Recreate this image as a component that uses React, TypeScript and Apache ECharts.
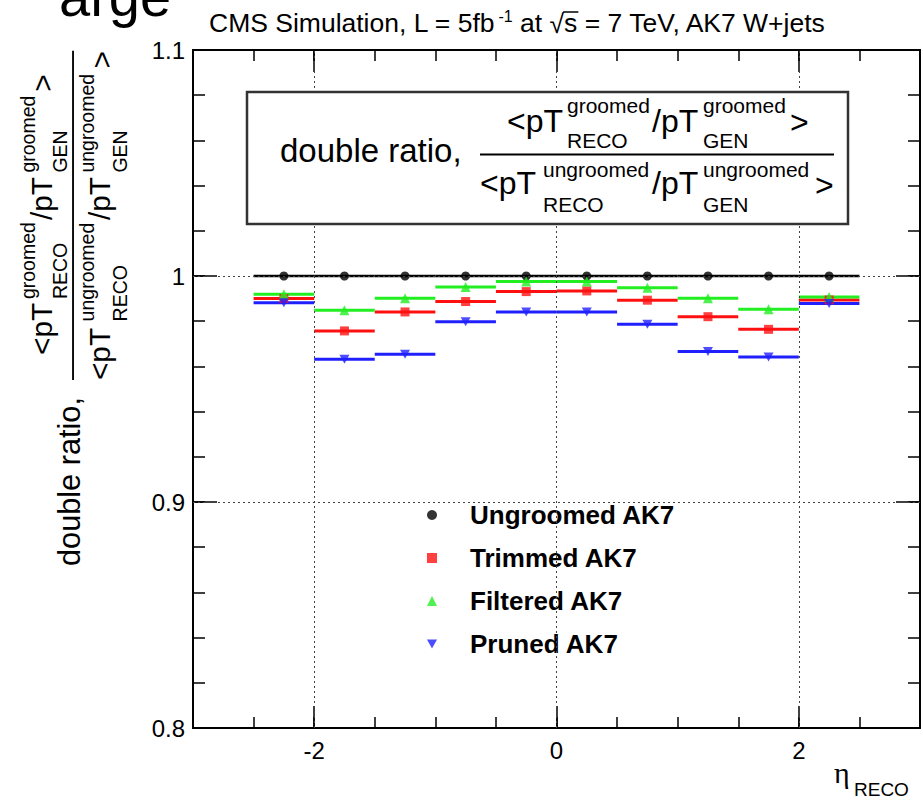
import React, { useEffect, useRef } from 'react';
import * as echarts from 'echarts';

// ---- data ----
const binCenters = [-2.25, -1.75, -1.25, -0.75, -0.25, 0.25, 0.75, 1.25, 1.75, 2.25];
const binHalfWidth = 0.25;
const ungroomed = [1, 1, 1, 1, 1, 1, 1, 1, 1, 1];
const trimmed = [0.990, 0.9757, 0.9841, 0.9887, 0.9931, 0.9934, 0.9893, 0.982, 0.9764, 0.9894];
const filtered = [0.9919, 0.9849, 0.9901, 0.9951, 0.9976, 0.9976, 0.9948, 0.9901, 0.9853, 0.9907];
const pruned = [0.9882, 0.9632, 0.9654, 0.9798, 0.9841, 0.9841, 0.9786, 0.9666, 0.9642, 0.9878];
const seriesNames = ['Ungroomed AK7', 'Trimmed AK7', 'Filtered AK7', 'Pruned AK7'];
const seriesValues = [ungroomed, trimmed, filtered, pruned];
const xLabelValues = [-2, 0, 2];
const yLabelValues = [0.8, 0.9, 1, 1.1];
const gridXValues = [-2, 0, 2];
const gridYValues = [0.9, 1];
const titleText1 = 'CMS Simulation, L = 5fb';
const titleSup = '-1';
const titleText2 = ' at ';
const titleText3 = ' = 7 TeV, AK7 W+jets';

const colors = ['#000000', '#ff1010', '#22ee22', '#2020ff'];
const symbols = ['circle', 'rect', 'triangle', 'path://M0,0L10,0L5,9Z'];
const symbolSizes: any[] = [9, 9, 10, [10, 9]];

const FONT = '"Liberation Sans", Arial, Helvetica, sans-serif';
const SERIF = '"Liberation Serif", "DejaVu Serif", serif';

function measure(text: string, size: number, family = FONT, weight = 'normal') {
  const c = document.createElement('canvas').getContext('2d')!;
  c.font = `${weight} ${size}px ${family}`;
  return c.measureText(text).width;
}

function txt(text: string, x: number, baseline: number, size: number, family = FONT): any {
  return {
    type: 'text',
    x,
    y: baseline - 0.35 * size,
    z: 100,
    style: {
      text,
      fill: '#000',
      fontSize: size,
      fontFamily: family,
      fontWeight: 'normal',
      verticalAlign: 'middle',
      align: 'left',
    },
  };
}

// fraction "double ratio, <pT../pT..> / <pT../pT..>" in local coordinates
function fractionChildren(): any[] {
  const M = 32, S = 21;
  const items: [string, number, number, number][] = [
    ['double ratio,', 0, 0, 33],
    ['<pT', 227, -30, M],
    ['groomed', 287, -49, S],
    ['RECO', 287, -14, S],
    ['/pT', 372, -30, M],
    ['groomed', 423, -49, S],
    ['GEN', 423, -14, S],
    ['>', 510, -29, M],
    ['<pT', 200, 32, M],
    ['ungroomed', 263, 15, S],
    ['RECO', 263, 50, S],
    ['/pT', 372, 32, M],
    ['ungroomed', 423, 15, S],
    ['GEN', 423, 50, S],
    ['>', 535, 34, M],
  ];
  const els: any[] = items.map(([t, x, b, f]) => txt(t, x, b, f));
  els.push({
    type: 'line',
    z: 100,
    shape: { x1: 200, y1: -7.5, x2: 554, y2: -7.5 },
    style: { stroke: '#000', lineWidth: 2 },
  });
  return els;
}

function buildGraphics(): any[] {
  const els: any[] = [];
  // cut-off text at top-left
  els.push(txt('arge', 59, 16, 56));
  // title
  const TF = 26.5;
  const tb = 32;
  let tx = 209;
  els.push(txt(titleText1, tx, tb, TF));
  tx += measure(titleText1, TF) + 3;
  els.push(txt(titleSup, tx, tb - 10, 16));
  tx += measure(titleSup, 16);
  els.push(txt(titleText2, tx, tb, TF));
  tx += measure(titleText2, TF);
  els.push(txt('\u221A', tx, tb + 1, TF));
  tx += measure('\u221A', TF);
  const sw = measure('s', TF);
  els.push(txt('s', tx, tb, TF));
  els.push({
    type: 'line',
    z: 100,
    shape: { x1: tx - 1, y1: tb - 20, x2: tx + sw + 1, y2: tb - 20 },
    style: { stroke: '#000', lineWidth: 1.5 },
  });
  tx += sw;
  els.push(txt(titleText3, tx, tb, TF));

  // box with fraction
  els.push({
    type: 'rect',
    z: 99,
    shape: { x: 247, y: 92, width: 601, height: 132 },
    style: { fill: '#fff', stroke: '#333', lineWidth: 2.5 },
  });
  els.push({ type: 'group', x: 280, y: 162, z: 100, children: fractionChildren() });

  // rotated y-axis title
  els.push({
    type: 'group',
    x: 80,
    y: 566,
    rotation: Math.PI / 2,
    scaleX: 0.93,
    scaleY: 0.93,
    z: 100,
    children: fractionChildren(),
  });

  // x-axis title
  els.push(txt('\u03B7', 834, 783, 30, SERIF));
  els.push(txt('RECO', 854, 796, 19));
  return els;
}

export default function App() {
  const ref = useRef<HTMLDivElement>(null);
  useEffect(() => {
    if (!ref.current) return;
    const chart = echarts.init(ref.current, null, { renderer: 'svg' });
    const tickStyle = { color: '#000', width: 1.5 };
    const xAxisBase = { type: 'value', min: -3, max: 3, splitLine: { show: false }, axisLine: { show: false, onZero: false } };
    const yAxisBase = { type: 'value', min: 0.8, max: 1.1, splitLine: { show: false }, axisLine: { show: false, onZero: false } };

    const series: any[] = [
      {
        type: 'line',
        data: [],
        z: 1,
        markLine: {
          silent: true,
          symbol: 'none',
          label: { show: false },
          lineStyle: { type: [2, 3], color: '#444', width: 1 },
          data: [
            ...gridXValues.map((v) => ({ xAxis: v })),
            ...gridYValues.map((v) => ({ yAxis: v })),
          ],
        },
      },
    ];
    seriesValues.forEach((vals, i) => {
      const data = binCenters.map((x, j) => [x, vals[j]]);
      series.push({
        type: 'custom',
        name: seriesNames[i] + ' bins',
        z: 2,
        data,
        renderItem: (params: any, api: any) => {
          const x = api.value(0);
          const y = api.value(1);
          const p1 = api.coord([x - binHalfWidth, y]);
          const p2 = api.coord([x + binHalfWidth, y]);
          return {
            type: 'line',
            shape: { x1: p1[0], y1: p1[1], x2: p2[0], y2: p2[1] },
            style: { stroke: colors[i], lineWidth: i === 0 ? 2.5 : 3 },
          };
        },
      });
      series.push({
        type: 'scatter',
        name: seriesNames[i],
        z: 3,
        data,
        symbol: symbols[i],
        symbolSize: symbolSizes[i],
        itemStyle: { color: colors[i] },
      });
    });

    chart.setOption({
      animation: false,
      backgroundColor: '#fff',
      grid: { show: true, left: 193, top: 50, width: 728, height: 678, borderColor: '#000', borderWidth: 2, backgroundColor: 'transparent' },
      xAxis: [
        {
          ...xAxisBase,
          position: 'bottom',
          interval: 0.5,
          axisTick: { show: true, inside: true, length: 11, lineStyle: tickStyle },
          axisLabel: {
            show: true,
            fontSize: 24,
            color: '#000',
            fontFamily: FONT,
            margin: 10,
            formatter: (v: number) => (xLabelValues.some((l) => Math.abs(l - v) < 1e-9) ? String(Math.round(v)) : ''),
          },
        },
        {
          ...xAxisBase,
          position: 'bottom',
          axisTick: { show: true, inside: true, length: 22, customValues: xLabelValues, lineStyle: tickStyle },
          axisLabel: { show: false },
        },
        {
          ...xAxisBase,
          position: 'top',
          interval: 0.5,
          axisTick: { show: true, inside: true, length: 11, lineStyle: tickStyle },
          axisLabel: { show: false },
        },
        {
          ...xAxisBase,
          position: 'top',
          axisTick: { show: true, inside: true, length: 22, customValues: xLabelValues, lineStyle: tickStyle },
          axisLabel: { show: false },
        },
      ],
      yAxis: [
        {
          ...yAxisBase,
          position: 'left',
          interval: 0.02,
          axisTick: { show: true, inside: true, length: 12, lineStyle: tickStyle },
          axisLabel: {
            show: true,
            fontSize: 24,
            color: '#000',
            fontFamily: FONT,
            margin: 8,
            formatter: (v: number) =>
              yLabelValues.some((l) => Math.abs(l - v) < 1e-6) ? String(Math.round(v * 10) / 10) : '',
          },
        },
        {
          ...yAxisBase,
          position: 'left',
          axisTick: { show: true, inside: true, length: 24, customValues: yLabelValues, lineStyle: tickStyle },
          axisLabel: { show: false },
        },
        {
          ...yAxisBase,
          position: 'right',
          interval: 0.02,
          axisTick: { show: true, inside: true, length: 12, lineStyle: tickStyle },
          axisLabel: { show: false },
        },
        {
          ...yAxisBase,
          position: 'right',
          axisTick: { show: true, inside: true, length: 24, customValues: yLabelValues, lineStyle: tickStyle },
          axisLabel: { show: false },
        },
      ],
      legend: {
        orient: 'vertical',
        left: 422,
        top: 497,
        itemWidth: 10,
        itemHeight: 10,
        itemGap: 17,
        selectedMode: false,
        textStyle: { fontSize: 26, fontWeight: 'bold', fontFamily: FONT, color: '#000', padding: [0, 0, 0, 28] },
        data: seriesNames.map((n, i) => ({ name: n, icon: symbols[i], itemStyle: { color: colors[i] } })),
      },
      graphic: buildGraphics(),
      series,
    });
    return () => chart.dispose();
  }, []);
  return <div ref={ref} style={{ position: 'fixed', left: 0, top: 0, width: 923, height: 802 }} />;
}
